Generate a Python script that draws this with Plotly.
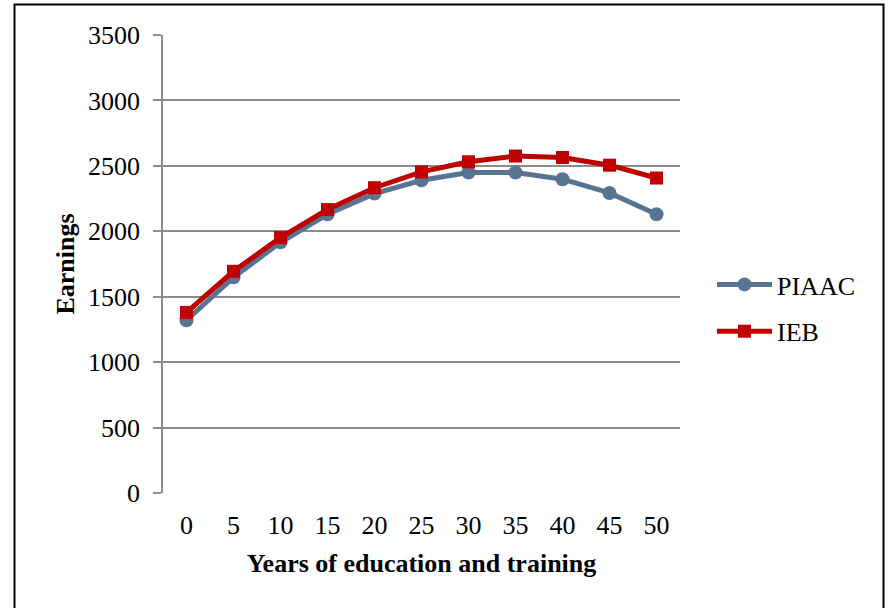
import plotly.graph_objects as go

# Years of education and training (category labels)
years = ["0", "5", "10", "15", "20", "25", "30", "35", "40", "45", "50"]

# Predicted earnings by source
piaac = [1320, 1648, 1916, 2130, 2288, 2390, 2449, 2449, 2398, 2293, 2130]
ieb = [1380, 1694, 1952, 2166, 2333, 2454, 2531, 2575, 2564, 2505, 2407]

y_ticks = [0, 500, 1000, 1500, 2000, 2500, 3000, 3500]

FONT = "Liberation Serif"
BLUE = "#587492"
RED = "#C00000"
GRID = "#8C8C8C"

fig = go.Figure()
fig.add_trace(go.Scatter(
    x=years, y=piaac, name="PIAAC", mode="lines+markers",
    line=dict(color=BLUE, width=5),
    marker=dict(symbol="circle", size=14, color=BLUE),
    legendgroup="a",
))
fig.add_trace(go.Scatter(
    x=years, y=ieb, name="IEB", mode="lines+markers",
    line=dict(color=RED, width=5),
    marker=dict(symbol="square", size=13, color=RED),
    legendgroup="b",
))

# plot-area geometry in pixels
W, H = 889, 608
L, R, T, B = 163, 680, 35, 493
pw, ph = R - L, B - T


def px(x):
    return (x - L) / pw


def py(y):
    return (B - y) / ph


# outer frame around the chart
fig.add_shape(type="rect", xref="paper", yref="paper",
              x0=px(14.5), x1=px(883.5), y0=py(640), y1=py(4.5),
              line=dict(color="#000000", width=2), layer="below")

fig.update_layout(
    width=W, height=H,
    margin=dict(l=L, r=W - R, t=T, b=H - B),
    paper_bgcolor="white", plot_bgcolor="white",
    font=dict(family=FONT, size=26, color="black"),
    showlegend=True,
    legend=dict(
        x=px(712), y=py(261), xanchor="left", yanchor="top",
        font=dict(family=FONT, size=26, color="black"),
        itemwidth=55,
        tracegroupgap=10, bgcolor="rgba(0,0,0,0)",
    ),
    xaxis=dict(
        type="category", range=[-0.5, len(years) - 0.5],
        showgrid=False, zeroline=False,
        showline=False, ticks="",
        ticklabelstandoff=14,
        tickfont=dict(family=FONT, size=26),
        title=dict(text="<b>Years of education and training</b>",
                   font=dict(family=FONT, size=26), standoff=14),
        automargin=False,
    ),
    yaxis=dict(
        range=[0, 3500], tickvals=y_ticks,
        showgrid=True, gridcolor=GRID, gridwidth=1.5,
        zeroline=False,
        showline=True, linecolor=GRID, linewidth=1.5,
        ticks="outside", ticklen=8, tickcolor=GRID, tickwidth=1.5,
        ticklabelstandoff=8,
        tickfont=dict(family=FONT, size=26),
        title=dict(text="<b>Earnings</b>",
                   font=dict(family=FONT, size=26), standoff=6),
        automargin=False,
    ),
)

fig.write_html("out.html")
